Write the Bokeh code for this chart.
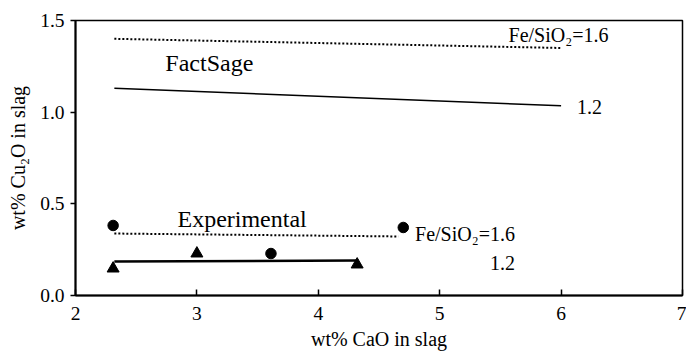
from bokeh.plotting import figure
from bokeh.models import Range1d, PrintfTickFormatter, FixedTicker
from bokeh.core.properties import value
from bokeh.embed import file_html
from bokeh.resources import INLINE

# FactSage calculated lines (x = wt% CaO, y = wt% Cu2O)
fs_x = [2.32, 6.0]
fs_16 = [1.40, 1.35]
fs_12 = [1.13, 1.035]

# Experimental fitted lines
exp16_x = [2.32, 4.66]
exp16_y = [0.338, 0.322]
exp12_x = [2.32, 4.33]
exp12_y = [0.185, 0.191]

# Experimental points
circ_x = [2.31, 3.61, 4.70]
circ_y = [0.382, 0.229, 0.371]
tri_x = [2.31, 3.00, 4.32]
tri_y = [0.147, 0.229, 0.169]

FNAME = "'Liberation Serif', 'Times New Roman', serif"
FONT = value(FNAME)

p = figure(width=686, height=353, output_backend="svg", toolbar_location=None,
           x_range=Range1d(2, 7), y_range=Range1d(0, 1.5),
           min_border_left=75, min_border_right=4, min_border_top=20, min_border_bottom=58)
p.background_fill_color = "white"
p.border_fill_color = "white"
p.outline_line_color = "black"
p.outline_line_width = 1.5
p.xgrid.visible = False
p.ygrid.visible = False

for ax in (p.xaxis[0], p.yaxis[0]):
    ax.axis_line_color = "black"
    ax.axis_line_width = 2
    ax.major_tick_line_color = "black"
    ax.major_tick_line_width = 1.5
    ax.minor_tick_line_color = None
    ax.major_label_text_font = FNAME
    ax.major_label_text_font_size = "19.5px"
    ax.major_label_text_color = "black"
    ax.axis_label_text_font = FNAME
    ax.axis_label_text_font_size = "20px"
    ax.axis_label_text_font_style = "normal"
    ax.axis_label_text_color = "black"

p.xaxis.ticker = FixedTicker(ticks=[2, 3, 4, 5, 6, 7])
p.xaxis.formatter = PrintfTickFormatter(format="%d")
p.xaxis.major_tick_in = 6
p.xaxis.major_tick_out = 0
p.xaxis.major_label_standoff = 11
p.xaxis.axis_label = "wt% CaO in slag"
p.xaxis.axis_label_standoff = 5

p.yaxis.ticker = FixedTicker(ticks=[0, 0.5, 1.0, 1.5])
p.yaxis.formatter = PrintfTickFormatter(format="%.1f")
p.yaxis.major_tick_in = 0
p.yaxis.major_tick_out = 5
p.yaxis.major_label_standoff = 6
p.yaxis.axis_label = "wt% Cu\u2082O in slag"
p.yaxis.axis_label_standoff = 8

# lines
p.line(fs_x, fs_16, line_color="black", line_width=2, line_dash="2 2")
p.line(fs_x, fs_12, line_color="black", line_width=1.5)
p.line(exp16_x, exp16_y, line_color="black", line_width=2, line_dash="2 2")
p.line(exp12_x, exp12_y, line_color="black", line_width=2.5)

# points
p.scatter(circ_x, circ_y, marker="circle", size=10.5, fill_color="black", line_color="black")
p.scatter(tri_x, tri_y, marker="triangle", size=12, fill_color="black", line_color="black")

# annotations
p.text(x=[2.74], y=[1.27], text=["FactSage"], text_font=FONT, text_font_size="24px",
       text_align="left", text_baseline="middle", text_color="black")
p.text(x=[2.84], y=[0.42], text=["Experimental"], text_font=FONT, text_font_size="24px",
       text_align="left", text_baseline="middle", text_color="black")
p.text(x=[6.39], y=[1.42], text=["Fe/SiO\u2082=1.6"], text_font=FONT, text_font_size="20px",
       text_align="right", text_baseline="middle", text_color="black")
p.text(x=[6.13], y=[1.03], text=["1.2"], text_font=FONT, text_font_size="20px",
       text_align="left", text_baseline="middle", text_color="black")
p.text(x=[5.62], y=[0.338], text=["Fe/SiO\u2082=1.6"], text_font=FONT, text_font_size="20px",
       text_align="right", text_baseline="middle", text_color="black")
p.text(x=[5.62], y=[0.175], text=["1.2"], text_font=FONT, text_font_size="20px",
       text_align="right", text_baseline="middle", text_color="black")

open("out.html", "w").write(file_html(p, INLINE))
